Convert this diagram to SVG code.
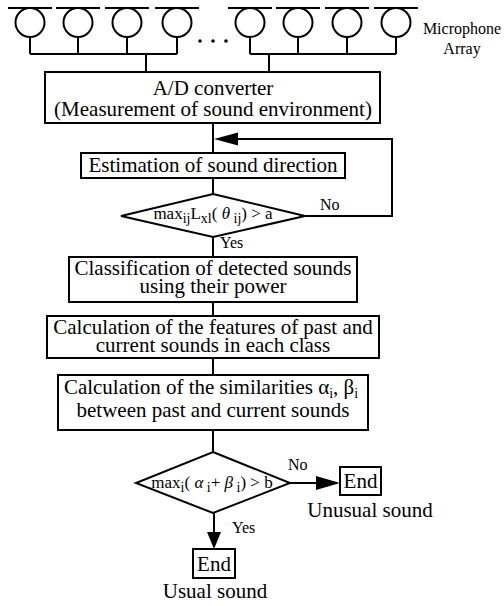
<svg xmlns="http://www.w3.org/2000/svg" width="504" height="606" viewBox="0 0 504 606">
<style>
.ln{stroke:#000;stroke-width:2;fill:none}
.bx{stroke:#000;stroke-width:2;fill:#fff}
.ah{fill:#000;stroke:none}
text{font-family:"Liberation Serif","Times New Roman",serif;fill:#000}
.t{font-size:21px;text-anchor:middle}
.s{font-size:16px}
.m{font-size:17px}
.sub{font-size:14px}
</style>
<rect width="504" height="606" fill="#fff"/>
<g id="mic-array">
  <g class="ln">
    <path d="M8 8H52M56 8H100M105 8H149M155 8H199M228 8H272M276 8H320M325 8H369M374 8H418"/>
    <circle cx="30" cy="22.5" r="14.5"/>
    <circle cx="78" cy="22.5" r="14.5"/>
    <circle cx="127" cy="22.5" r="14.5"/>
    <circle cx="177" cy="22.5" r="14.5"/>
    <circle cx="250" cy="22.5" r="14.5"/>
    <circle cx="298" cy="22.5" r="14.5"/>
    <circle cx="347" cy="22.5" r="14.5"/>
    <circle cx="396" cy="22.5" r="14.5"/>
    <path d="M30 37V54M78 37V54M127 37V54M177 37V54M30 54H177"/>
    <path d="M250 37V54M298 37V54M347 37V54M396 37V54M250 54H396"/>
  </g>
  <circle cx="200" cy="41" r="1.8"/>
  <circle cx="213" cy="41" r="1.8"/>
  <circle cx="226" cy="41" r="1.8"/>
  <text class="s" x="462" y="34" text-anchor="middle">Microphone</text>
  <text class="s" x="462" y="54" text-anchor="middle">Array</text>
</g>
<g id="connectors">
  <path class="ln" d="M146 54V72M269 54V72"/>
  <path class="ln" d="M213 123V153M213 178V194M213 237V257M213 302V316M213 358V375M213 430V452"/>
  <path class="ln" d="M305 216H392V139H236"/>
  <polygon class="ah" points="214,139 238,132.5 238,145.5"/>
  <path class="ln" d="M290 483H318"/>
  <polygon class="ah" points="340,483 316,476 316,490"/>
  <path class="ln" d="M214 513V534"/>
  <polygon class="ah" points="214,549 207,532 221,532"/>
  <text class="s" x="320" y="210">No</text>
  <text class="s" x="220" y="248">Yes</text>
  <text class="s" x="288" y="470">No</text>
  <text class="s" x="232" y="533">Yes</text>
</g>
<g id="ad-converter">
  <rect class="bx" x="45" y="72" width="335" height="51"/>
  <text class="t" x="213" y="95">A/D converter</text>
  <text class="t" x="213" y="116">(Measurement of sound environment)</text>
</g>
<g id="estimation">
  <rect class="bx" x="81" y="153" width="264" height="25"/>
  <text class="t" x="213" y="172">Estimation of sound direction</text>
</g>
<g id="decision-1">
  <polygon class="bx" points="213,194 305,216 213,237 121,216"/>
  <text class="m" x="213" y="219" text-anchor="middle">max<tspan class="sub" dy="4">ij</tspan><tspan dy="-4">L</tspan><tspan class="sub" dy="4">xl</tspan><tspan dy="-4">( </tspan><tspan font-style="italic">θ</tspan><tspan class="sub" dy="4"> ij</tspan><tspan dy="-4">) &gt; a</tspan></text>
</g>
<g id="classification">
  <rect class="bx" x="69" y="257" width="288" height="45"/>
  <text class="t" x="213" y="275">Classification of detected sounds</text>
  <text class="t" x="213" y="293">using their power</text>
</g>
<g id="features">
  <rect class="bx" x="47" y="316" width="332" height="42"/>
  <text class="t" x="213" y="334">Calculation of the features of past and</text>
  <text class="t" x="213" y="352">current sounds in each class</text>
</g>
<g id="similarities">
  <rect class="bx" x="58" y="375" width="310" height="55"/>
  <text class="t" x="211" y="394">Calculation of the similarities α<tspan class="sub" dy="4">i</tspan><tspan dy="-4">, β</tspan><tspan class="sub" dy="4">i</tspan></text>
  <text class="t" x="213" y="417">between past and current sounds</text>
</g>
<g id="decision-2">
  <polygon class="bx" points="213,452 290,483 213,513 136,483"/>
  <text class="m" x="212" y="488" text-anchor="middle">max<tspan class="sub" dy="4">i</tspan><tspan dy="-4">( </tspan><tspan font-style="italic">α</tspan><tspan class="sub" dy="4"> i</tspan><tspan dy="-4">+ </tspan><tspan font-style="italic">β</tspan><tspan class="sub" dy="4"> i</tspan><tspan dy="-4">) &gt; b</tspan></text>
</g>
<g id="end-unusual">
  <rect class="bx" x="340" y="467" width="41" height="28"/>
  <text class="t" x="360.5" y="488">End</text>
  <text class="t" x="370" y="517">Unusual sound</text>
</g>
<g id="end-usual">
  <rect class="bx" x="193" y="549" width="42" height="29"/>
  <text class="t" x="214" y="571">End</text>
  <text class="t" x="215" y="598">Usual sound</text>
</g>
</svg>
